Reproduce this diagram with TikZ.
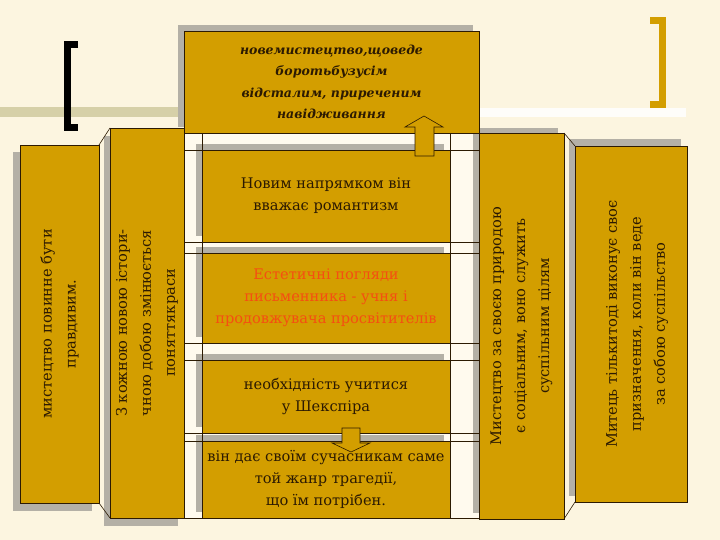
\documentclass[tikz,border=0pt]{standalone}
\usepackage{fontspec}
\setmainfont{DejaVu Serif}
\usetikzlibrary{arrows,shapes}

\definecolor{paper}{RGB}{252,245,224}
\definecolor{column}{RGB}{255,250,238}
\definecolor{gold}{RGB}{211,158,0}
\definecolor{boxgray}{RGB}{180,176,166}
\definecolor{khaki}{RGB}{214,208,168}
\definecolor{ink}{RGB}{44,26,2}
\definecolor{redtext}{RGB}{245,78,18}

\begin{document}
\begin{tikzpicture}[x=1pt, y=-1pt]
		\tikzstyle{goldbox} = [rectangle, fill=gold, draw=ink, line width=.6pt, inner sep=0pt, align=center, text=ink, font=\fontsize{14.6}{22}\selectfont]
		\tikzstyle{sidebox} = [goldbox, rotate=90, font=\fontsize{14.6}{24}\selectfont]
		\tikzstyle{sidetext} = [inner sep=0pt, align=center, text=ink, rotate=90, font=\fontsize{14.6}{24}\selectfont]
		\tikzstyle{grid} = [draw=ink, line width=.6pt]

		\useasboundingbox (0,0) rectangle (720,540);
		\fill[paper] (0,0) rectangle (720,540);
		\fill[khaki] (0,107) rectangle (178,117);
		\fill[white!85!paper] (479,108) rectangle (686,117);

		\draw[line width=7pt, black] (78,44.5) -- (67,44.5) -- (67,127.5) -- (78,127.5);
		\draw[line width=7pt, gold] (650,20.5) -- (662,20.5) -- (662,104.5) -- (650,104.5);

		\fill[column] (184,133) rectangle (479,518);

		\fill[boxgray] (178,25) rectangle (473,127);
		\fill[boxgray] (13,152) rectangle (92,511);
		\fill[boxgray] (104,136) rectangle (178,526);
		\fill[boxgray] (473,128) rectangle (558,513);
		\fill[boxgray] (569,139) rectangle (681,496);
		\fill[boxgray] (196,144) rectangle (444,236);
		\fill[boxgray] (196,247) rectangle (444,337);
		\fill[boxgray] (196,354) rectangle (444,427);
		\fill[boxgray] (196,435) rectangle (444,512);

		\node[goldbox, minimum width=295pt, minimum height=102pt, font=\bfseries\itshape\fontsize{12.5}{21.5}\selectfont] (top) at (331.5,82) {новемистецтво,щоведе\\боротьбузусім\\відсталим, приреченим\\навідживання};

		\node[goldbox, minimum width=248pt, minimum height=92pt] (a) at (326,196) {Новим напрямком він\\вважає романтизм};
		\node[goldbox, minimum width=248pt, minimum height=90pt, text=redtext] (b) at (326,298) {Естетичні погляди\\письменника - учня і\\продовжувача просвітителів};
		\node[goldbox, minimum width=248pt, minimum height=73pt] (c) at (326,396.5) {необхідність учитися\\у Шекспіра};
		\node[goldbox, minimum width=248pt, minimum height=77pt] (d) at (326,479.5) {він дає своїм сучасникам саме\\той жанр трагедії,\\що їм потрібен.};

		\node[sidebox, minimum width=358pt, minimum height=79pt] (l1) at (59.5,324) {мистецтво повинне бути\\правдивим.};
		\node[sidebox, minimum width=390pt, minimum height=74pt] (l2) at (147,323) {З кожною новою істори-\\чною добою змінюється\\поняттякраси};
		\node[sidebox, minimum width=386pt, minimum height=85pt] (r1) at (521.5,326) {Мистецтво за своєю природою\\є соціальним, воно служить\\суспільним цілям};
		\node[goldbox, minimum width=112pt, minimum height=356pt] (r2) at (631,324) {};
		\node[sidetext] (r2t) at (637,324) {Митець тількитоді виконує своє\\призначення, коли він веде\\за собою суспільство};

		\draw[grid] (184,133) -- (184,518);
		\draw[grid] (202,133) -- (202,518);
		\draw[grid] (450,133) -- (450,518);
		\draw[grid] (479,133) -- (479,518);
		\draw[grid] (184,150) -- (479,150);
		\draw[grid] (184,242) -- (479,242);
		\draw[grid] (184,253) -- (479,253);
		\draw[grid] (184,343) -- (479,343);
		\draw[grid] (184,360) -- (479,360);
		\draw[grid] (184,433) -- (479,433);
		\draw[grid] (184,441) -- (479,441);
		\draw[grid] (184,518) -- (479,518);

		\draw[grid] (99,145) -- (110,128);
		\draw[grid] (99,503) -- (110,518);
		\draw[grid] (564,133) -- (575,146);
		\draw[grid] (564,519) -- (575,502);

		\draw[grid, fill=gold] (415,156) -- (415,127) -- (405,127) -- (424,116) -- (443,127) -- (434,127) -- (434,156) -- cycle;
		\draw[grid, fill=gold] (342,428) -- (342,443) -- (332,443) -- (351,452) -- (370,443) -- (360,443) -- (360,428) -- cycle;
\end{tikzpicture}
\end{document}
